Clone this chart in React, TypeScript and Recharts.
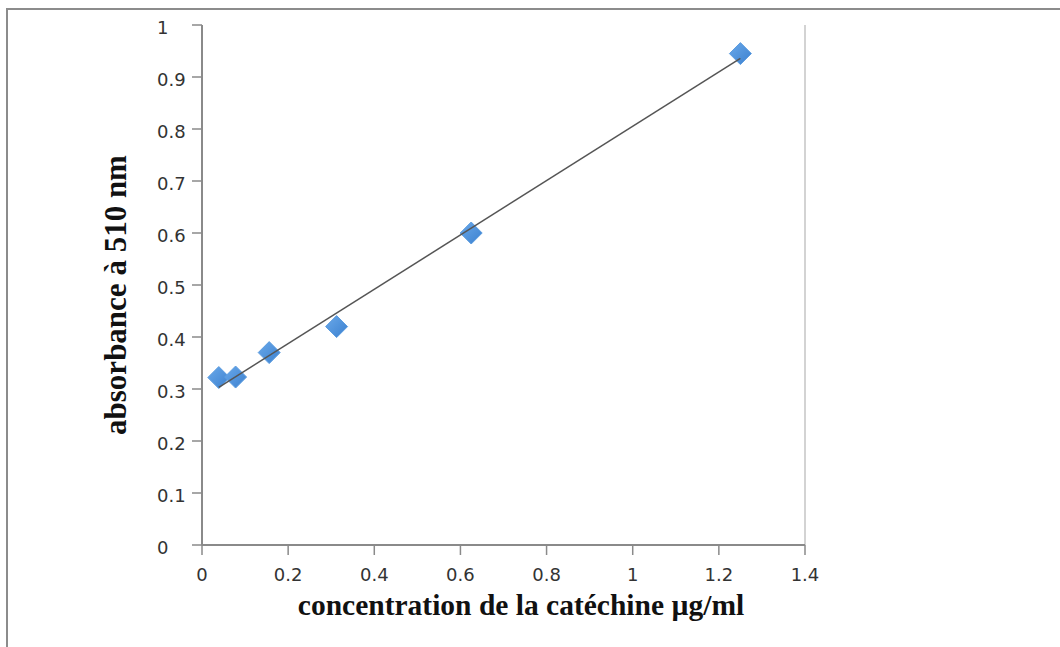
import React from "react";
import {
  ScatterChart,
  Scatter,
  XAxis,
  YAxis,
  ReferenceLine,
  Label,
} from "recharts";

// Measured points: concentration (µg/ml) vs absorbance at 510 nm
const concentrations = [0.039, 0.078, 0.156, 0.3125, 0.625, 1.25];
const absorbances = [0.322, 0.323, 0.37, 0.42, 0.6, 0.945];

// Linear trend line end points
const trendConcentrations = [0.039, 1.25];
const trendAbsorbances = [0.303, 0.936];

const xTicks = [0, 0.2, 0.4, 0.6, 0.8, 1, 1.2, 1.4];
const yTicks = [0, 0.1, 0.2, 0.3, 0.4, 0.5, 0.6, 0.7, 0.8, 0.9, 1];

const xTitle = "concentration de la catéchine µg/ml";
const yTitle = "absorbance à 510 nm";

const points = concentrations.map((x, i) => ({ x, y: absorbances[i] }));
const trend = trendConcentrations.map((x, i) => ({ x, y: trendAbsorbances[i] }));

const tickStyle = { fontFamily: "DejaVu Sans", fontSize: 18, fill: "#333" };

const Diamond = (props: any) => {
  const { cx, cy } = props;
  if (cx == null || cy == null) return <g />;
  const r = 11;
  return (
    <path
      d={`M${cx},${cy - r}L${cx + r},${cy}L${cx},${cy + r}L${cx - r},${cy}Z`}
      fill="url(#diamondFill)"
      stroke="#5d9de0"
      strokeWidth={1}
    />
  );
};

const Empty = () => <g />;

// Y tick labels are left-aligned in the reference
const YTick = (props: any) => {
  const { y, payload } = props;
  return (
    <text
      x={157}
      y={y}
      dy={9}
      textAnchor="start"
      fontFamily="DejaVu Sans"
      fontSize={18}
      fill="#333"
    >
      {String(payload.value)}
    </text>
  );
};

const YTitle = () => {
  const cx = 126;
  const cy = 295;
  return (
    <text
      x={cx}
      y={cy}
      transform={`rotate(-90, ${cx}, ${cy})`}
      textAnchor="middle"
      fontFamily="'Liberation Serif', serif"
      fontWeight="bold"
      fontSize={31}
      fill="#111"
    >
      {yTitle}
    </text>
  );
};

const XTitle = () => {
  return (
    <text
      x={521}
      y={615}
      textAnchor="middle"
      fontFamily="'Liberation Serif', serif"
      fontWeight="bold"
      fontSize={29.5}
      fill="#111"
    >
      {xTitle}
    </text>
  );
};

export default function App() {
  return (
    <div
      style={{
        position: "absolute",
        left: 0,
        top: 0,
        width: 1060,
        height: 647,
        background: "#fff",
        overflow: "hidden",
      }}
    >
      <div
        style={{
          position: "absolute",
          left: 6,
          top: 8,
          width: 1060,
          height: 647,
          borderTop: "2px solid #8c8c8c",
          borderLeft: "2px solid #8c8c8c",
        }}
      />
      <div style={{ position: "absolute", left: 0, top: 0 }}>
        <ScatterChart
          width={1060}
          height={647}
          margin={{ top: 25, right: 255, bottom: 0, left: 0 }}
        >
          <defs>
            <linearGradient id="diamondFill" x1="0" y1="0" x2="1" y2="1">
              <stop offset="0%" stopColor="#6aa9ea" />
              <stop offset="100%" stopColor="#3b80cf" />
            </linearGradient>
          </defs>
          <XAxis
            type="number"
            dataKey="x"
            domain={[0, 1.4]}
            ticks={xTicks}
            interval={0}
            height={102}
            tick={tickStyle}
            tickSize={10}
            tickMargin={13}
            axisLine={{ stroke: "#8a8a8a", strokeWidth: 2 }}
            tickLine={{ stroke: "#8a8a8a", strokeWidth: 1.5 }}
            tickFormatter={(v: number) => String(v)}
            allowDataOverflow
          >
            <Label content={<XTitle />} />
          </XAxis>
          <YAxis
            type="number"
            dataKey="y"
            domain={[0, 1]}
            ticks={yTicks}
            interval={0}
            width={202}
            tick={<YTick />}
            tickSize={10}
            tickMargin={3}
            axisLine={{ stroke: "#8a8a8a", strokeWidth: 2 }}
            tickLine={{ stroke: "#8a8a8a", strokeWidth: 1.5 }}
            allowDataOverflow
          >
            <Label content={<YTitle />} />
          </YAxis>
          <ReferenceLine x={1.4} stroke="#c4c4c4" strokeWidth={1.5} />
          <Scatter
            data={points}
            shape={<Diamond />}
            isAnimationActive={false}
          />
          <Scatter
            data={trend}
            line={{ stroke: "#555", strokeWidth: 1.5 }}
            shape={<Empty />}
            isAnimationActive={false}
          />
        </ScatterChart>
      </div>
    </div>
  );
}
